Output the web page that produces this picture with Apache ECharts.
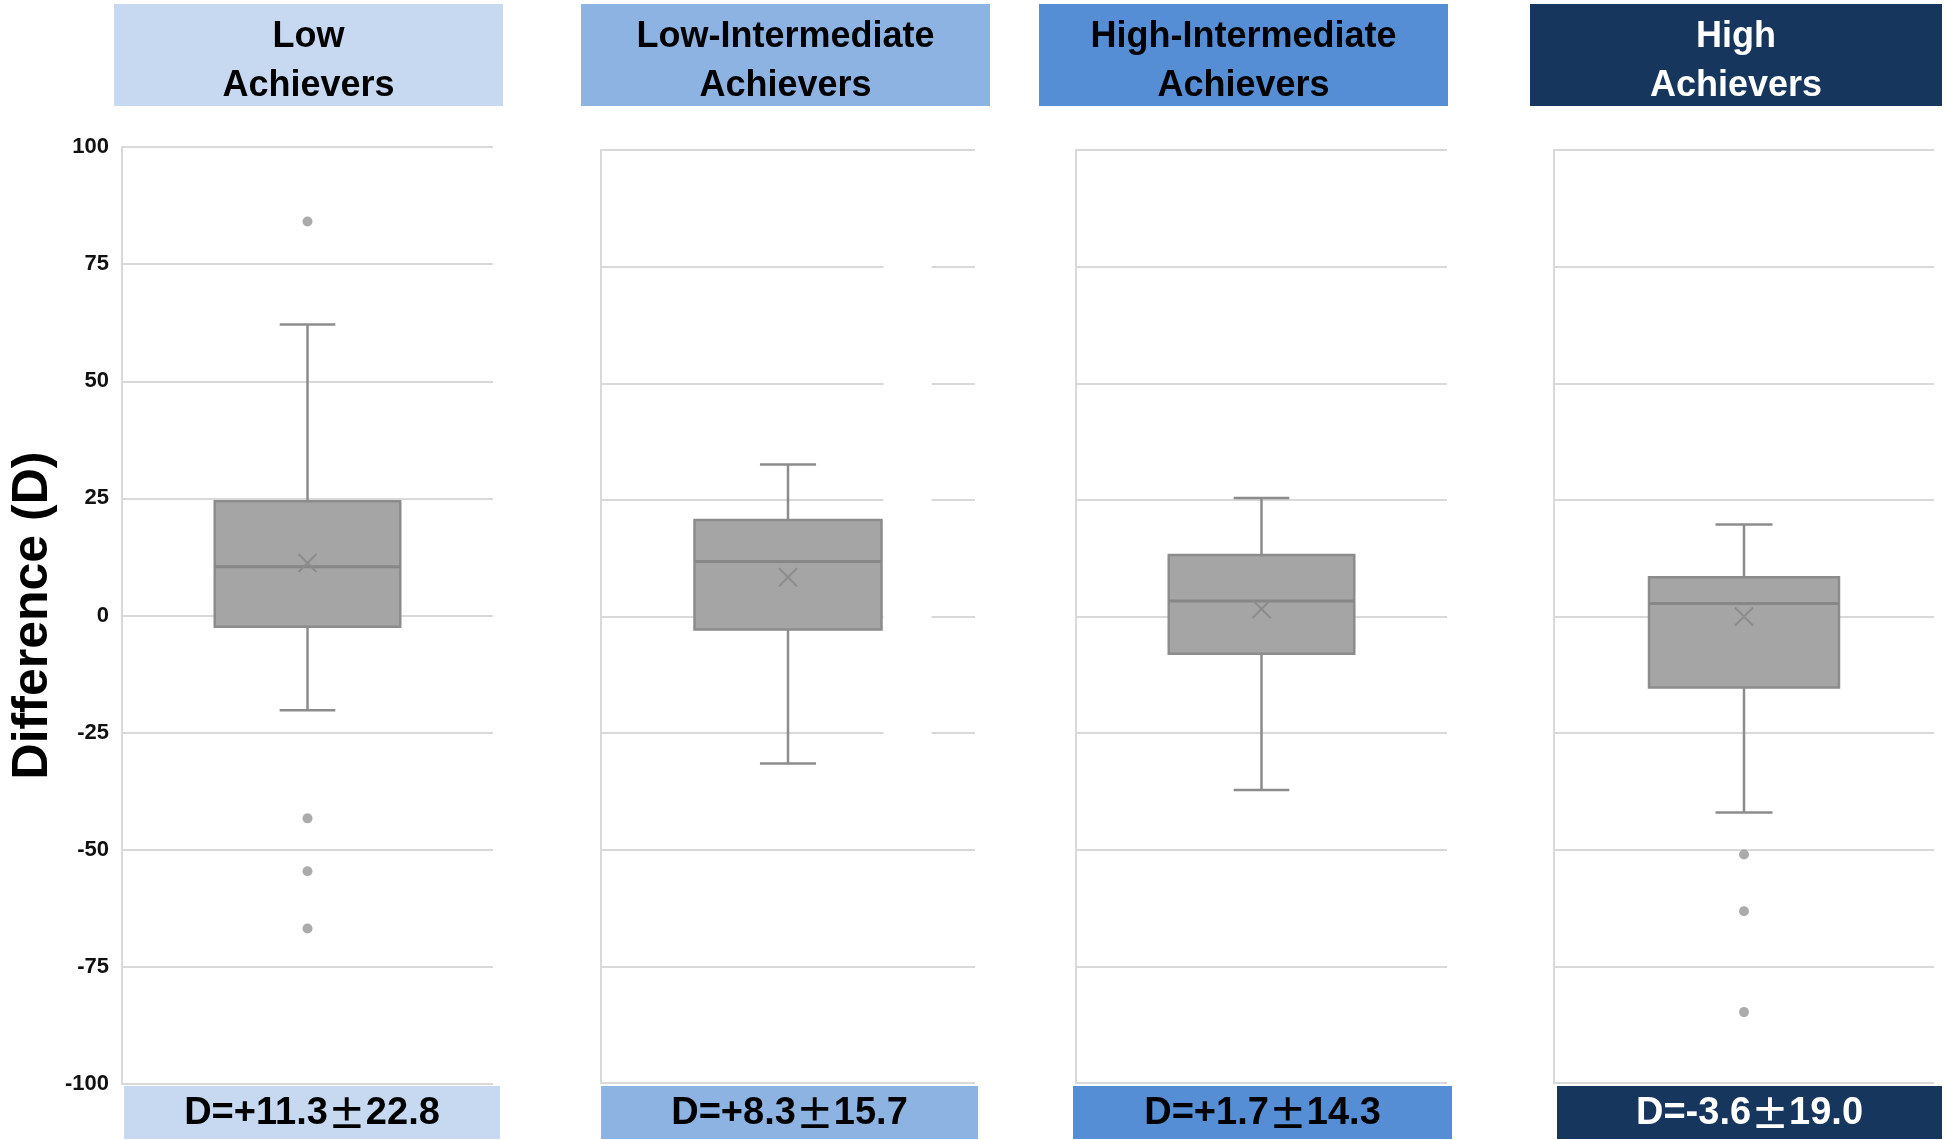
<!DOCTYPE html>
<html><head><meta charset="utf-8">
<script src="https://cdn.jsdelivr.net/npm/echarts@6/dist/echarts.min.js"></script>
<style>html,body{margin:0;padding:0;background:#fff}#c{width:1946px;height:1140px}</style>
</head><body><div id="c"></div>
<script>
// ---- data ----
const categories = ['Low\nAchievers', 'Low-Intermediate\nAchievers', 'High-Intermediate\nAchievers', 'High\nAchievers'];
const whiskerLow = [-20.2, -31.5, -37.2, -42.0];
const q1 = [-2.4, -2.8, -8.0, -15.2];
const median = [10.4, 11.8, 3.3, 2.8];
const q3 = [24.4, 20.7, 13.2, 8.4];
const whiskerHigh = [62.1, 32.6, 25.4, 19.7];
const means = [11.2, 8.4, 1.6, 0.0];
const outliers = [[84.1, -43.3, -54.6, -66.8], [], [], [-51.0, -63.2, -84.8]];
const dMean = ['+11.3', '+8.3', '+1.7', '-3.6'];
const dSd = ['22.8', '15.7', '14.3', '19.0'];
const yTicks = { min: -100, max: 100, interval: 25 };
const yTitle = 'Difference (D)';

// ---- style / layout ----
const FONT = '"Liberation Sans", Arial, sans-serif';
const groupColors = ['#C6D9F1', '#8DB3E2', '#558ED5', '#17365D'];
const groupText = ['#000', '#000', '#000', '#fff'];
const panels = [
  { left: 122, top: 147, width: 371, height: 937 },
  { left: 601, top: 150, width: 374, height: 933 },
  { left: 1076, top: 150, width: 371, height: 933 },
  { left: 1554, top: 150, width: 380, height: 933 }
];
const headers = [
  { x: 114, w: 389 }, { x: 581, w: 409 }, { x: 1039, w: 409 }, { x: 1530, w: 412 }
];
const footers = [
  { x: 124, w: 376 }, { x: 601, w: 377 }, { x: 1073, w: 379 }, { x: 1557, w: 385 }
];

const chart = echarts.init(document.getElementById('c'));

function renderBox(params, api) {
  const cat = api.value(0);
  const x = api.coord([cat, api.value(3)])[0];
  const band = api.size([1, 0])[0];
  const bw = band * 0.5, cw = bw * 0.3;
  const y = v => api.coord([cat, v])[1];
  const yLow = y(api.value(1)), yQ1 = y(api.value(2)), yMed = y(api.value(3)),
        yQ3 = y(api.value(4)), yHigh = y(api.value(5)), yMean = y(api.value(6));
  const ls = { stroke: '#8c8c8c', lineWidth: 2.5 };
  const m = 9;
  const children = [];
  // panel 2 of the source shows a white break in the gridlines right of the box
  if (params.seriesIndex === 2) {
    const yTop = y(80), yBot = y(-30);
    children.push({ type: 'rect', shape: { x: x + bw / 2 + 2, y: yTop, width: 48, height: yBot - yTop },
      style: { fill: '#fff' } });
  }
  children.push(
    { type: 'line', shape: { x1: x, y1: yQ3, x2: x, y2: yHigh }, style: ls },
    { type: 'line', shape: { x1: x - cw / 2, y1: yHigh, x2: x + cw / 2, y2: yHigh }, style: ls },
    { type: 'line', shape: { x1: x, y1: yQ1, x2: x, y2: yLow }, style: ls },
    { type: 'line', shape: { x1: x - cw / 2, y1: yLow, x2: x + cw / 2, y2: yLow }, style: ls },
    { type: 'rect', shape: { x: x - bw / 2, y: yQ3, width: bw, height: yQ1 - yQ3 },
      style: { fill: '#a5a5a5', stroke: '#8c8c8c', lineWidth: 2.5 } },
    { type: 'line', shape: { x1: x - bw / 2, y1: yMed, x2: x + bw / 2, y2: yMed },
      style: { stroke: '#878787', lineWidth: 3 } },
    { type: 'line', shape: { x1: x - m, y1: yMean - m, x2: x + m, y2: yMean + m },
      style: { stroke: '#8c8c8c', lineWidth: 2 } },
    { type: 'line', shape: { x1: x - m, y1: yMean + m, x2: x + m, y2: yMean - m },
      style: { stroke: '#8c8c8c', lineWidth: 2 } }
  );
  return { type: 'group', children: children };
}

const series = [];
categories.forEach((c, i) => {
  series.push({
    type: 'custom', xAxisIndex: i, yAxisIndex: i,
    renderItem: renderBox,
    encode: { x: 0, y: [1, 2, 3, 4, 5, 6] },
    data: [[0, whiskerLow[i], q1[i], median[i], q3[i], whiskerHigh[i], means[i]]],
    z: 3
  });
  series.push({
    type: 'scatter', xAxisIndex: i, yAxisIndex: i,
    symbol: 'circle', symbolSize: 10,
    itemStyle: { color: '#969696' },
    data: outliers[i].map(v => [0, v]),
    z: 4
  });
});

const graphic = [];
categories.forEach((c, i) => {
  graphic.push({ type: 'rect', shape: { x: headers[i].x, y: 4, width: headers[i].w, height: 102 },
    style: { fill: groupColors[i] } });
  graphic.push({ type: 'text', x: headers[i].x + headers[i].w / 2, y: 62,
    style: { text: c, fill: groupText[i], fontSize: 36, fontWeight: 'bold', fontFamily: FONT,
      align: 'center', verticalAlign: 'middle', lineHeight: 49 } });
  graphic.push({ type: 'rect', shape: { x: footers[i].x, y: 1086, width: footers[i].w, height: 53 },
    style: { fill: groupColors[i] } });
  graphic.push({ type: 'text', x: footers[i].x + footers[i].w / 2, y: 1114,
    style: {
      text: '{a|D=' + dMean[i] + '}{pm|\u00B1}{a|' + dSd[i] + '}',
      align: 'center', verticalAlign: 'middle',
      rich: {
        a: { fill: groupText[i], fontSize: 38, fontWeight: 'bold', fontFamily: FONT },
        pm: { fill: groupText[i], fontSize: 38, fontWeight: 'bold', fontFamily: '"Noto Sans CJK JP", ' + FONT }
      }
    } });
});

chart.setOption({
  animation: false,
  backgroundColor: '#fff',
  grid: panels.map(p => Object.assign({ containLabel: false, outerBoundsMode: 'none' }, p)),
  xAxis: categories.map((c, i) => ({
    gridIndex: i, type: 'category', data: [c], show: false, boundaryGap: true
  })),
  yAxis: categories.map((c, i) => ({
    gridIndex: i, type: 'value', min: yTicks.min, max: yTicks.max, interval: yTicks.interval,
    axisLine: { show: true, lineStyle: { color: '#d9d9d9', width: 2 } },
    axisTick: { show: false },
    axisLabel: { show: i === 0, fontSize: 22, fontWeight: 'bold', color: '#111', margin: 13, fontFamily: FONT },
    splitLine: { show: true, lineStyle: { color: '#d9d9d9', width: 2 } },
    name: i === 0 ? yTitle : '',
    nameLocation: 'middle', nameGap: 64,
    nameTextStyle: { fontSize: 50, fontWeight: 'bold', color: '#000', fontFamily: FONT }
  })),
  series: series,
  graphic: graphic
});
</script>
</body></html>
